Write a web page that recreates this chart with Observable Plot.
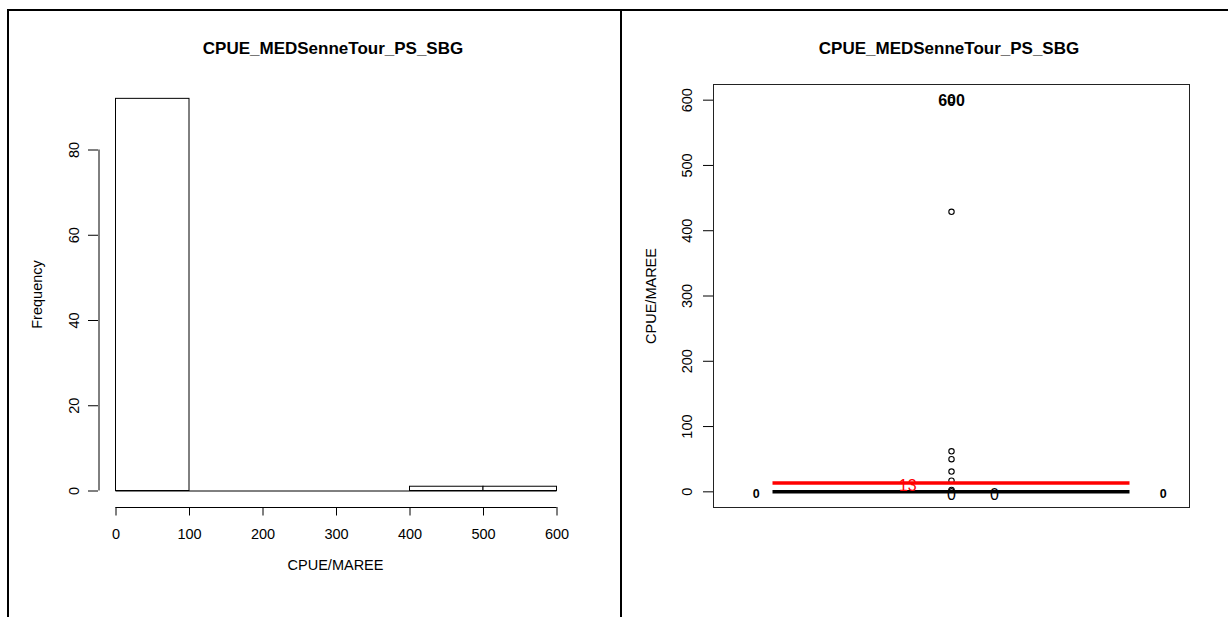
<!DOCTYPE html>
<html><head><meta charset="utf-8">
<script src="https://cdn.jsdelivr.net/npm/d3@7"></script>
<script src="https://cdn.jsdelivr.net/npm/@observablehq/plot@0.6"></script>
<style>
body{margin:0;background:#fff;}
#page{position:relative;width:1228px;height:617px;overflow:hidden;background:#fff;font-family:"Liberation Sans",Arial,sans-serif;color:#000;}
.panel{position:absolute;top:0;height:617px;}
.title{position:absolute;top:39px;line-height:20px;font-weight:bold;font-size:17px;text-align:center;white-space:nowrap;}
.border{position:absolute;background:#000;}
</style></head><body>
<div id="page">
  <div class="panel" id="left" style="left:0;width:621px"></div>
  <div class="panel" id="right" style="left:621px;width:607px"></div>
  <div class="title" id="t1" style="left:0;width:666px"></div>
  <div class="title" id="t2" style="left:621px;width:656px"></div>
  <div class="border" style="left:7px;top:9px;width:1221px;height:2px"></div>
  <div class="border" style="left:7px;top:9px;width:2px;height:608px"></div>
  <div class="border" style="left:620px;top:9px;width:2px;height:608px"></div>
</div>
<script>
// ---- data ----
const titleText = "CPUE_MEDSenneTour_PS_SBG";
const xLabel = "CPUE/MAREE";
const yLabelHist = "Frequency";
const binEdges = [0, 100, 200, 300, 400, 500, 600];
const binCounts = [92, 0, 0, 0, 1, 1];
const histXTicks = [0, 100, 200, 300, 400, 500, 600];
const histYTicks = [0, 20, 40, 60, 80];
const boxYTicks = [0, 100, 200, 300, 400, 500, 600];
const outlierValues = [600, 429, 62, 50, 31, 17, 3];
const medianValue = 0;
const meanValue = 13.4;
const maxValue = 600;
const zeroLabelBoldX = [0.59, 1.445];
const zeroLabelX = [1, 1.09];
const meanLabelX = 0.908;

document.getElementById("t1").textContent = titleText;
document.getElementById("t2").textContent = titleText;

const font = '"Liberation Sans", Arial, sans-serif';
const bins = binCounts.map((c, i) => ({x0: binEdges[i], x1: binEdges[i + 1], count: c}));

const left = Plot.plot({
  width: 621, height: 617,
  marginLeft: 98, marginRight: 49, marginTop: 81, marginBottom: 110,
  style: {fontFamily: font, fontSize: "14.5px", background: "transparent", color: "black", overflow: "visible"},
  x: {domain: [0, 600], range: [115.5, 556.5]},
  y: {domain: [0, 80], range: [490.5, 149.5]},
  marks: [
    Plot.rect(bins.filter(b => b.count > 0), {x1: "x0", x2: "x1", y1: 0, y2: "count", fill: "white", stroke: "black", strokeWidth: 1}),
    Plot.ruleY([0], {x1: 0, x2: 600, stroke: "black"}),
    Plot.axisX({ticks: histXTicks, tickSize: 8.5, tickPadding: 12.5, label: null}),
    Plot.ruleY([0], {x1: 0, x2: 600, dy: 16.5, stroke: "black"}),
    Plot.axisY({ticks: histYTicks, tickSize: 10, tickPadding: 10, tickRotate: -90, label: null}),
    Plot.ruleX([0], {y1: 0, y2: 80, dx: -17, stroke: "black"}),
    Plot.text([yLabelHist], {text: d => d, frameAnchor: "left", textAnchor: "middle", rotate: -90, dx: -61}),
    Plot.text([xLabel], {text: d => d, frameAnchor: "bottom", dy: 62})
  ]
});
document.getElementById("left").appendChild(left);

const boxData = outlierValues.map(v => ({group: 1, value: v}));
const right = Plot.plot({
  width: 607, height: 617,
  marginLeft: 92, marginRight: 39, marginTop: 84, marginBottom: 110,
  style: {fontFamily: font, fontSize: "14.5px", background: "transparent", color: "black", overflow: "visible"},
  x: {domain: [0.5, 1.5], axis: null},
  y: {domain: [-24, 624]},
  marks: [
    Plot.frame({stroke: "#222"}),
    Plot.axisY({ticks: boxYTicks, tickSize: 10, tickPadding: 11.5, tickRotate: -90, label: null}),
    Plot.dot(boxData, {x: "group", y: "value", r: 2.7, stroke: "black", strokeWidth: 1.1}),
    Plot.ruleY([{group: 1, v: meanValue}], {y: "v", x1: d => d.group - 0.375, x2: d => d.group + 0.375, stroke: "red", strokeWidth: 3.5}),
    Plot.ruleY([{group: 1, v: medianValue}], {y: "v", x1: d => d.group - 0.375, x2: d => d.group + 0.375, stroke: "black", strokeWidth: 3.5}),
    Plot.text([maxValue], {x: () => 1, y: d => d, text: d => String(d), fontWeight: "bold", fontSize: 16, dy: 1}),
    Plot.text(zeroLabelBoldX, {x: d => d, y: () => medianValue, text: () => "0", fontWeight: "bold", fontSize: 12.5, dy: 2}),
    Plot.text(zeroLabelX, {x: d => d, y: () => medianValue, text: () => "0", fontSize: 16, dy: 3}),
    Plot.text([meanValue], {x: () => meanLabelX, y: d => d, text: d => String(Math.round(d)), fill: "red", fontSize: 16, dy: 3}),
    Plot.text([xLabel], {text: d => d, frameAnchor: "left", textAnchor: "middle", rotate: -90, dx: -62})
  ]
});
document.getElementById("right").appendChild(right);
</script>
</body></html>
